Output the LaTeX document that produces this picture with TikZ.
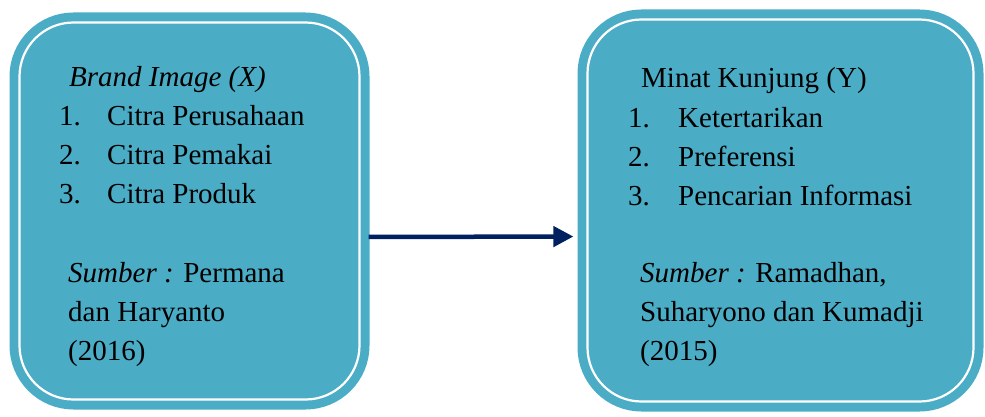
\documentclass[tikz,border=0pt]{standalone}
\usepackage{fontspec}
\setmainfont{Liberation Serif}
\usetikzlibrary{positioning,arrows.meta}
\definecolor{panelblue}{HTML}{4BACC6}
\definecolor{arrownavy}{HTML}{002060}

\begin{document}
\begin{tikzpicture}[x=1pt, y=1pt, node distance=39pt]
    \tikzset{
        panel/.style = {rectangle, rounded corners=54pt, fill=panelblue, draw=white, line width=2.2pt,
                        preaction={draw=panelblue, line width=20pt}},
        txt/.style = {inner sep=0pt, anchor=base west, font=\fontsize{29}{38}\selectfont},
        arrow/.style = {line width=4.5pt, draw=arrownavy, -{Triangle[length=20pt,width=20pt]}}
    }
    \useasboundingbox (0,0) rectangle (985,416);

    \node (brand) [panel, minimum width=340pt, minimum height=377pt] at (189.5,205) {};
    \node (minat) [panel, minimum width=386pt, minimum height=382pt] at (780.5,205.5) {};

    % left box
    \node (bhead) [txt] at (69,330) {\textit{Brand Image (X)}};
    \node (b1) [below=39pt of bhead.base west, txt, xshift=-10pt] {\makebox[48pt][l]{1.}Citra Perusahaan};
    \node (b2) [below=of b1.base west, txt] {\makebox[48pt][l]{2.}Citra Pemakai};
    \node (b3) [below=of b2.base west, txt] {\makebox[48pt][l]{3.}Citra Produk};
    \node (bsrc1) [txt] at (68,134) {\textit{Sumber :} Permana};
    \node (bsrc2) [below=of bsrc1.base west, txt] {dan Haryanto};
    \node (bsrc3) [below=of bsrc2.base west, txt] {(2016)};

    % right box
    \node (mhead) [txt] at (641,328) {Minat Kunjung (Y)};
    \node (m1) [below=39pt of mhead.base west, txt, xshift=-13pt] {\makebox[50pt][l]{1.}Ketertarikan};
    \node (m2) [below=of m1.base west, txt] {\makebox[50pt][l]{2.}Preferensi};
    \node (m3) [below=of m2.base west, txt] {\makebox[50pt][l]{3.}Pencarian Informasi};
    \node (msrc1) [txt] at (640,134) {\textit{Sumber :} Ramadhan,};
    \node (msrc2) [below=of msrc1.base west, txt] {Suharyono dan Kumadji};
    \node (msrc3) [below=of msrc2.base west, txt] {(2015)};

    \draw [arrow, shorten <=8pt, shorten >=13pt] ([yshift=-26pt]brand.east) -- ([yshift=-26pt]minat.west);
\end{tikzpicture}
\end{document}
